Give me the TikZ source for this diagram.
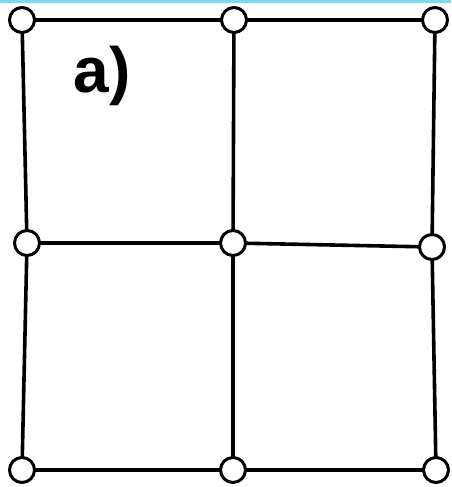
\documentclass[tikz,border=0pt]{standalone}
\usepackage{fontspec}
\setmainfont{Liberation Sans}
\begin{document}
\begin{tikzpicture}[x=1pt,y=-1pt,
  vert/.style={circle,draw=black,fill=white,line width=3pt,minimum size=25pt,inner sep=0pt},
  edge/.style={line width=3.6pt,black}]
\useasboundingbox (0,0) rectangle (451,487);
\fill[fill={rgb,255:red,120;green,220;blue,245}] (0,0) rectangle (451,3.5);
\coordinate (n11) at (22,20);
\coordinate (n12) at (234,20);
\coordinate (n13) at (435,20);
\coordinate (n21) at (27,243);
\coordinate (n22) at (233,243);
\coordinate (n23) at (432,247);
\coordinate (n31) at (22,470);
\coordinate (n32) at (233,470);
\coordinate (n33) at (436,470);
\draw[edge] (n11) -- (n12) -- (n13);
\draw[edge] (n21) -- (n22) -- (n23);
\draw[edge] (n31) -- (n32) -- (n33);
\draw[edge] (n11) -- (n21) -- (n31);
\draw[edge] (n12) -- (n22) -- (n32);
\draw[edge] (n13) -- (n23) -- (n33);
\foreach \n in {n11,n12,n13,n21,n22,n23,n31,n32,n33}
  \node[vert] (v\n) at (\n) {};
\node[font=\bfseries\fontsize{64}{64}\selectfont,inner sep=0pt] (lab) at (102,76) {a)};
\end{tikzpicture}
\end{document}
